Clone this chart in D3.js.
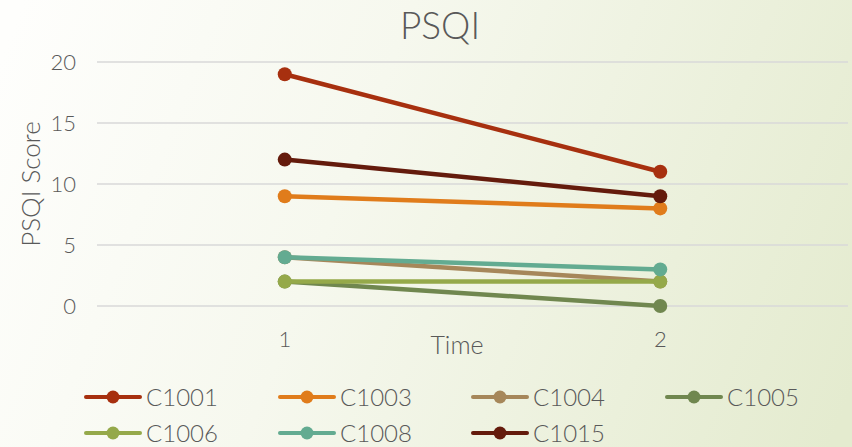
<!DOCTYPE html>
<html>
<head>
<meta charset="utf-8">
<script src="https://cdn.jsdelivr.net/npm/d3@7"></script>
<style>
  html, body { margin: 0; padding: 0; }
  svg { display: block; }
  text { font-family: "Lato", "Noto Sans", sans-serif; font-weight: 300; fill: #595959; }
</style>
</head>
<body>
<svg id="chart" width="852" height="447"></svg>
<script>
// PSQI scores per participant at two time points
const times = ["1", "2"];
const seriesNames = ["C1001", "C1003", "C1004", "C1005", "C1006", "C1008", "C1015"];
const C1001 = [19, 11];
const C1003 = [9, 8];
const C1004 = [4, 2];
const C1005 = [2, 0];
const C1006 = [2, 2];
const C1008 = [4, 3];
const C1015 = [12, 9];
const yTicks = [0, 5, 10, 15, 20];
const seriesColors = ["#A7300F", "#E07C1B", "#A6875A", "#70874F", "#95A94A", "#63AB91", "#641B0C"];

const seriesValues = [C1001, C1003, C1004, C1005, C1006, C1008, C1015];
const series = seriesNames.map((name, i) => ({
  name,
  color: seriesColors[i],
  points: times.map((t, j) => ({ t, v: seriesValues[i][j] }))
}));

const W = 852, H = 447;
const svg = d3.select("#chart");

// soft white-to-sage background
const defs = svg.append("defs");
const grad = defs.append("linearGradient")
  .attr("id", "bg")
  .attr("gradientUnits", "userSpaceOnUse")
  .attr("x1", 0).attr("y1", 60)
  .attr("x2", W).attr("y2", 390);
grad.append("stop").attr("offset", "0%").attr("stop-color", "#FEFEFC");
grad.append("stop").attr("offset", "40%").attr("stop-color", "#F6F8EE");
grad.append("stop").attr("offset", "100%").attr("stop-color", "#E4EBCF");
svg.append("rect").attr("width", W).attr("height", H).attr("fill", "url(#bg)");

const plot = { left: 97, right: 848, top: 62, bottom: 306 };

const x = d3.scaleBand().domain(times).range([plot.left, plot.right]).padding(0);
const y = d3.scaleLinear().domain([0, 20]).range([plot.bottom, plot.top]);

// horizontal gridlines
svg.append("g")
  .selectAll("line")
  .data(yTicks)
  .join("line")
  .attr("x1", plot.left).attr("x2", plot.right)
  .attr("y1", d => y(d)).attr("y2", d => y(d))
  .attr("stroke", "#D9D9D9")
  .attr("stroke-width", 1.5);

// y axis tick labels
const yAxis = d3.axisLeft(y).tickValues(yTicks).tickSize(0).tickPadding(0);
const gy = svg.append("g").attr("transform", `translate(76,0)`).call(yAxis);
gy.select(".domain").remove();
gy.selectAll("text")
  .attr("font-size", 22)
  .attr("font-family", "Lato, 'Noto Sans', sans-serif")
  .attr("font-weight", 300)
  .attr("fill", "#595959")
  .attr("dy", "0.36em");

// x axis tick labels
const xAxis = d3.axisBottom(x).tickSize(0).tickPadding(0);
const gx = svg.append("g").attr("transform", `translate(0,347)`).call(xAxis);
gx.select(".domain").remove();
gx.selectAll("text")
  .attr("font-size", 22)
  .attr("font-family", "Lato, 'Noto Sans', sans-serif")
  .attr("font-weight", 300)
  .attr("fill", "#595959")
  .attr("dy", 0)
  .attr("y", 0);

// titles
svg.append("text")
  .attr("x", 440).attr("y", 39)
  .attr("text-anchor", "middle")
  .attr("font-size", 37)
  .text("PSQI");

svg.append("text")
  .attr("x", 457).attr("y", 354)
  .attr("text-anchor", "middle")
  .attr("font-size", 25)
  .text("Time");

svg.append("text")
  .attr("transform", `translate(40,${(plot.top + plot.bottom) / 2}) rotate(-90)`)
  .attr("text-anchor", "middle")
  .attr("font-size", 26)
  .text("PSQI Score");

// series lines and markers
const line = d3.line()
  .x(d => x(d.t) + x.bandwidth() / 2)
  .y(d => y(d.v));

const gSeries = svg.append("g")
  .selectAll("g")
  .data(series)
  .join("g");

gSeries.append("path")
  .attr("d", d => line(d.points))
  .attr("fill", "none")
  .attr("stroke", d => d.color)
  .attr("stroke-width", 4.5)
  .attr("stroke-linecap", "round");

gSeries.selectAll("circle")
  .data(d => d.points.map(p => ({ ...p, color: d.color })))
  .join("circle")
  .attr("cx", d => x(d.t) + x.bandwidth() / 2)
  .attr("cy", d => y(d.v))
  .attr("r", 7)
  .attr("fill", d => d.color);

// legend: four columns, two rows
const legendCols = [86, 280, 473, 667];
const legendRows = [397, 433];
const legend = svg.append("g")
  .selectAll("g")
  .data(series)
  .join("g")
  .attr("transform", (d, i) => `translate(${legendCols[i % 4]},${legendRows[Math.floor(i / 4)]})`);

legend.append("line")
  .attr("x1", 0).attr("x2", 54)
  .attr("stroke", d => d.color)
  .attr("stroke-width", 4)
  .attr("stroke-linecap", "round");
legend.append("circle")
  .attr("cx", 27).attr("r", 6.5)
  .attr("fill", d => d.color);
legend.append("text")
  .attr("x", 60).attr("y", 9)
  .attr("font-size", 24)
  .text(d => d.name);
</script>
</body>
</html>
